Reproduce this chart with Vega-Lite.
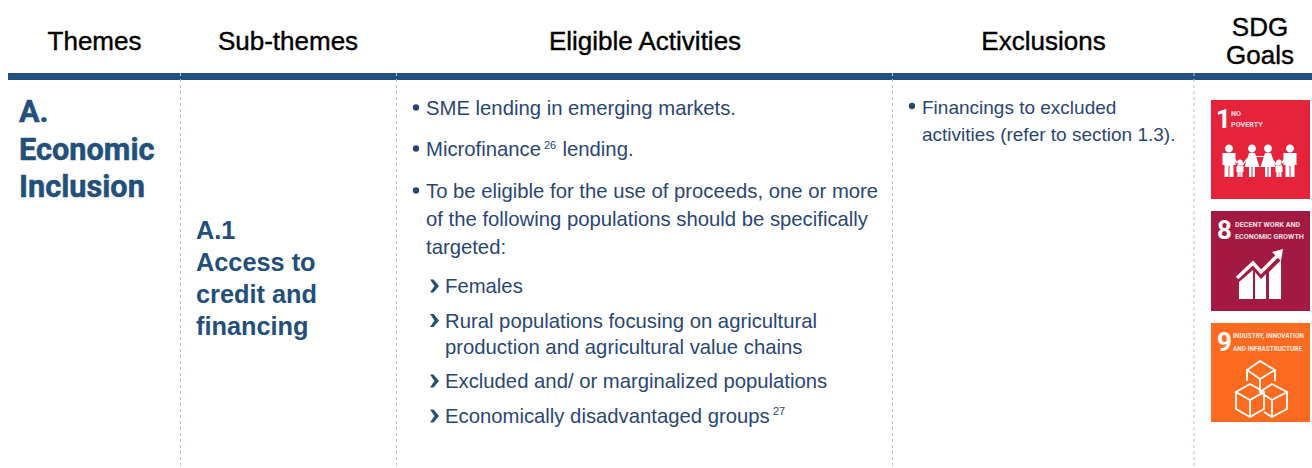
{
"$schema":"https://vega.github.io/schema/vega-lite/v6.json",
"width":1312,"height":468,"padding":0,
"autosize":"none",
"background":"#ffffff",
"config":{"view":{"stroke":null}},
"data":{"values":[
{"kind":"band","x":8,"x2":1312,"y":73,"y2":80},
{"kind":"sdg1","x":1211,"x2":1310,"y":100,"y2":199},
{"kind":"sdg8","x":1211,"x2":1310,"y":211,"y2":311},
{"kind":"sdg9","x":1211,"x2":1310,"y":323,"y2":422},
{"kind":"divider","x":180.5,"y":73,"y2":468},
{"kind":"divider","x":396.5,"y":73,"y2":468},
{"kind":"divider","x":892.5,"y":73,"y2":468},
{"kind":"divider","x":1194,"y":73,"y2":468},
{"kind":"header","x":94.5,"y":50,"text":"Themes"},
{"kind":"header","x":288,"y":50,"text":"Sub-themes"},
{"kind":"header","x":645,"y":50,"text":"Eligible Activities"},
{"kind":"header","x":1043.5,"y":50,"text":"Exclusions"},
{"kind":"header","x":1260,"y":36,"text":"SDG"},
{"kind":"header","x":1260,"y":64,"text":"Goals"},
{"kind":"theme","x":19,"y":122,"text":"A."},
{"kind":"theme","x":19,"y":160,"text":"Economic"},
{"kind":"theme","x":19,"y":197,"text":"Inclusion"},
{"kind":"sub","x":196,"y":239,"text":"A.1"},
{"kind":"sub","x":196,"y":271,"text":"Access to"},
{"kind":"sub","x":196,"y":303,"text":"credit and"},
{"kind":"sub","x":196,"y":335,"text":"financing"},
{"kind":"bullet","x":416,"y":107.5},
{"kind":"bullet","x":416,"y":148.5},
{"kind":"bullet","x":416,"y":190.5},
{"kind":"bullet","x":912,"y":106},
{"kind":"body","x":426,"y":115,"text":"SME lending in emerging markets."},
{"kind":"body","x":426,"y":156,"text":"Microfinance"},
{"kind":"body","x":562.5,"y":156,"text":"lending."},
{"kind":"body","x":426,"y":198,"text":"To be eligible for the use of proceeds, one or more"},
{"kind":"body","x":426,"y":226,"text":"of the following populations should be specifically"},
{"kind":"body","x":426,"y":254,"text":"targeted:"},
{"kind":"body","x":445,"y":293,"text":"Females"},
{"kind":"body","x":445,"y":328,"text":"Rural populations focusing on agricultural"},
{"kind":"body","x":445,"y":354,"text":"production and agricultural value chains"},
{"kind":"body","x":445,"y":388,"text":"Excluded and/ or marginalized populations"},
{"kind":"body","x":445,"y":423,"text":"Economically disadvantaged groups"},
{"kind":"sup","x":544,"y":149,"text":"26"},
{"kind":"sup","x":773,"y":415,"text":"27"},
{"kind":"excl","x":922,"y":114,"text":"Financings to excluded"},
{"kind":"excl","x":922,"y":141,"text":"activities (refer to section 1.3)."},
{"kind":"chev","x":434.5,"y":286},
{"kind":"chev","x":434.5,"y":320.5},
{"kind":"chev","x":434.5,"y":381},
{"kind":"chev","x":434.5,"y":416},
{"kind":"num","x":1216,"y":128,"text":"1"},
{"kind":"num","x":1217,"y":239,"text":"8"},
{"kind":"num","x":1217,"y":351,"text":"9"},
{"kind":"tiny7","x":1231,"y":116,"text":"NO"},
{"kind":"tiny7","x":1231,"y":127,"text":"POVERTY"},
{"kind":"tiny7","x":1235,"y":227,"text":"DECENT WORK AND"},
{"kind":"tiny7","x":1235,"y":239,"text":"ECONOMIC GROWTH"},
{"kind":"tiny","x":1233,"y":338,"text":"INDUSTRY, INNOVATION"},
{"kind":"tiny","x":1233,"y":351,"text":"AND INFRASTRUCTURE"},
{"kind":"icon1","x":1260,"y":161},
{"kind":"icon8","x":1260,"y":261},
{"kind":"icon9","x":1260,"y":387}
]},
"encoding":{
"x":{"field":"x","type":"quantitative","axis":null,"scale":{"domain":[0,1312],"nice":false,"zero":false}},
"y":{"field":"y","type":"quantitative","axis":null,"scale":{"domain":[0,468],"reverse":true,"nice":false,"zero":false}}
},
"layer":[
{"transform":[{"filter":"datum.kind==='band'"}],"mark":{"type":"rect","fill":"#234F7B"},"encoding":{"x2":{"field":"x2"},"y2":{"field":"y2"}}},
{"transform":[{"filter":"datum.kind==='sdg1'"}],"mark":{"type":"rect","fill":"#E5243B"},"encoding":{"x2":{"field":"x2"},"y2":{"field":"y2"}}},
{"transform":[{"filter":"datum.kind==='sdg8'"}],"mark":{"type":"rect","fill":"#A21942"},"encoding":{"x2":{"field":"x2"},"y2":{"field":"y2"}}},
{"transform":[{"filter":"datum.kind==='sdg9'"}],"mark":{"type":"rect","fill":"#FD6B20"},"encoding":{"x2":{"field":"x2"},"y2":{"field":"y2"}}},
{"transform":[{"filter":"datum.kind==='divider'"}],"mark":{"type":"rule","stroke":"#A8C4F0","strokeWidth":1,"strokeDash":[3,3]},"encoding":{"y2":{"field":"y2"}}},
{"transform":[{"filter":"datum.kind==='header'"}],"mark":{"type":"text","font":"Liberation Sans","fontSize":26,"align":"center","baseline":"alphabetic","fill":"#000000","stroke":"#000000","strokeWidth":0.4},"encoding":{"text":{"field":"text"}}},
{"transform":[{"filter":"datum.kind==='theme'"}],"mark":{"type":"text","font":"Roboto","fontWeight":"bold","fontSize":30.7,"align":"left","baseline":"alphabetic","fill":"#234F7B","stroke":"#234F7B","strokeWidth":0.5},"encoding":{"text":{"field":"text"}}},
{"transform":[{"filter":"datum.kind==='sub'"}],"mark":{"type":"text","font":"Liberation Sans","fontWeight":"bold","fontSize":25.3,"align":"left","baseline":"alphabetic","fill":"#234F7B"},"encoding":{"text":{"field":"text"}}},
{"transform":[{"filter":"datum.kind==='bullet'"}],"mark":{"type":"point","shape":"circle","size":40,"filled":true,"fill":"#234577","strokeWidth":0,"opacity":1}},
{"transform":[{"filter":"datum.kind==='body'"}],"mark":{"type":"text","font":"Liberation Sans","fontSize":20.3,"align":"left","baseline":"alphabetic","fill":"#2A4674"},"encoding":{"text":{"field":"text"}}},
{"transform":[{"filter":"datum.kind==='excl'"}],"mark":{"type":"text","font":"Liberation Sans","fontSize":19,"align":"left","baseline":"alphabetic","fill":"#2A4674"},"encoding":{"text":{"field":"text"}}},
{"transform":[{"filter":"datum.kind==='sup'"}],"mark":{"type":"text","font":"Liberation Sans","fontSize":11,"align":"left","baseline":"alphabetic","fill":"#2A4674"},"encoding":{"text":{"field":"text"}}},
{"transform":[{"filter":"datum.kind==='chev'"}],"mark":{"type":"point","shape":"M-4.5 -6.5H-1L4.5 0L-1 6.5H-4.5L0 0Z","size":4,"filled":true,"fill":"#234F7B","strokeWidth":0,"opacity":1}},
{"transform":[{"filter":"datum.kind==='num'"}],"mark":{"type":"text","font":"Roboto","fontWeight":"bold","fontSize":26,"align":"left","baseline":"alphabetic","fill":"#ffffff"},"encoding":{"text":{"field":"text"}}},
{"transform":[{"filter":"datum.kind==='tiny'"}],"mark":{"type":"text","font":"Roboto","fontWeight":"bold","fontSize":6.4,"align":"left","baseline":"alphabetic","fill":"#ffffff","opacity":0.85},"encoding":{"text":{"field":"text"}}},
{"transform":[{"filter":"datum.kind==='tiny7'"}],"mark":{"type":"text","font":"Roboto","fontWeight":"bold","fontSize":7.2,"align":"left","baseline":"alphabetic","fill":"#ffffff","opacity":0.85},"encoding":{"text":{"field":"text"}}},
{"transform":[{"filter":"datum.kind==='icon1'"}],"mark":{"type":"point","shape":"M-35 -12.5a4 4 0 1 0 8 0a4 4 0 1 0 -8 0ZM-37.5 -8H-24.5V4H-26.5V16H-30.5V5H-31.5V16H-35.5V4H-37.5ZM26 -12.5a4 4 0 1 0 8 0a4 4 0 1 0 -8 0ZM23.5 -8H36.5V4H34.5V16H30.5V5H29.5V16H25.5V4H23.5ZM-12 -12.5a4 4 0 1 0 8 0a4 4 0 1 0 -8 0ZM-11 -8H-5L-0.5 6H-5V16H-7.5V6H-8.5V16H-11V6H-15.5ZM4 -12.5a4 4 0 1 0 8 0a4 4 0 1 0 -8 0ZM5 -8H11L15.5 6H11V16H8.5V6H7.5V16H5V6H0.5ZM-23 1.5a3 3 0 1 0 6 0a3 3 0 1 0 -6 0ZM-23.5 5H-16.5V11H-17.5V16H-19.7V11H-20.3V16H-22.5V11H-23.5ZM16 1.5a3 3 0 1 0 6 0a3 3 0 1 0 -6 0ZM15.5 5H22.5V11H21.5V16H19.3V11H18.7V16H16.5V11H15.5ZM-26 -5L-20 6L-21 7L-27 -4ZM-20 6L-13 -3L-12 -2L-19 7ZM-5 -5H5V-4H-5ZM12 -3L19 6L18 7L11 -2ZM19 6L25 -5L26 -4L20 7Z","size":4,"filled":true,"fill":"#ffffff","strokeWidth":0,"opacity":1}},
{"transform":[{"filter":"datum.kind==='icon8'"}],"mark":{"type":"point","shape":"M-21 38V21L-7 9V38ZM-5 38V11L1 18L6 13V38ZM9 38V11L21 -1V38ZM12 -9L23 -12L21 0Z","size":4,"filled":true,"fill":"#ffffff","strokeWidth":0,"opacity":1}},
{"transform":[{"filter":"datum.kind==='icon8'"}],"mark":{"type":"point","shape":"M-23 17L-7 2L1 11L18 -6","size":4,"filled":false,"fill":"transparent","stroke":"#ffffff","strokeWidth":3.5,"opacity":1}},
{"transform":[{"filter":"datum.kind==='icon9'"}],"mark":{"type":"point","shape":"M0 -26L15 -17L0 -8L-13 -17ZM-13 -17V-6M15 -17V-6M0 -8V4M-10 -3L4 5L-10 13L-24 5ZM-24 5V22L-10 30L4 22V5M-10 13V30M12 -3L27 5L12 13L0 5ZM27 5V22L12 30L4 25M12 13V30","size":4,"filled":false,"fill":"transparent","stroke":"#ffffff","strokeWidth":1.8,"opacity":1}}
]
}
